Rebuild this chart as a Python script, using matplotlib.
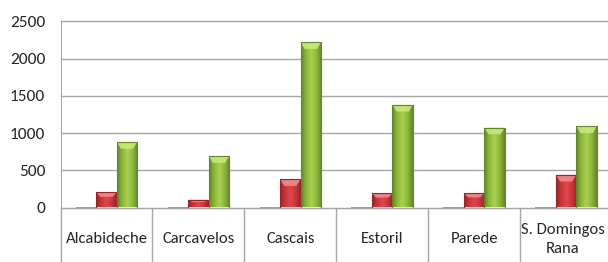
import matplotlib
matplotlib.use('Agg')
import matplotlib.pyplot as plt
import matplotlib.transforms as mtransforms
import numpy as np
from matplotlib.colors import LinearSegmentedColormap

# data
categories = ['Alcabideche', 'Carcavelos', 'Cascais', 'Estoril', 'Parede', 'S. Domingos\nRana']
serie_azul = [10, 10, 10, 10, 10, 10]
serie_vermelha = [205, 105, 380, 190, 195, 440]
serie_verde = [880, 690, 2220, 1380, 1075, 1090]
yticks = [0, 500, 1000, 1500, 2000, 2500]

plt.rcParams['font.family'] = ['Carlito', 'DejaVu Sans']

fig = plt.figure(figsize=(6.08, 2.62), dpi=100)
ax = fig.add_axes([60.5/608, 54.5/262, 551.5/608, 186/262])

x = np.arange(len(categories))
w = 0.223

def shaded(bars, dark, mid, light, top):
    cmap = LinearSegmentedColormap.from_list('b', [dark, mid, light, mid, dark])
    grad = np.linspace(0, 1, 64).reshape(1, -1)
    for b in bars:
        x0, y0 = b.get_x(), b.get_y()
        bw, bh = b.get_width(), b.get_height()
        im = ax.imshow(grad, cmap=cmap, aspect='auto', extent=[x0, x0 + bw, y0, y0 + bh],
                       zorder=3, interpolation='bicubic')
        im.set_clip_path(b)
        # light bevel on top
        cap = min(bh * 0.3, 90)
        ax.fill([x0, x0 + bw, x0 + bw*0.8, x0 + bw*0.2], [y0 + bh, y0 + bh, y0 + bh - cap, y0 + bh - cap],
                color=top, alpha=0.85, zorder=4, lw=0)
        b.set_zorder(5)
        b.set_facecolor('none')
        b.set_edgecolor(dark)
        b.set_linewidth(0.8)

b1 = ax.bar(x - w, serie_azul, w, color='#7FA3D3', zorder=3)
b2 = ax.bar(x, serie_vermelha, w)
b3 = ax.bar(x + w, serie_verde, w)
shaded(b2, '#952528', '#C9363B', '#E2484D', '#F08F92')
shaded(b3, '#66852A', '#8DB83C', '#A8D24F', '#CBEB7E')

ax.set_xlim(-0.5, len(categories) - 0.5)
ax.set_ylim(0, 2500)
ax.set_yticks(yticks)
ax.grid(axis='y', color='#A6A6A6', lw=1, zorder=0)
for gl in ax.get_ygridlines():
    gl.set_clip_on(False)
ax.set_axisbelow(True)

for s in ['top', 'right']:
    ax.spines[s].set_visible(False)
ax.spines['left'].set_color('#A6A6A6')
ax.spines['bottom'].set_color('#A6A6A6')

ax.set_xticks(x)
ax.set_xticklabels(categories, fontsize=12, linespacing=1.45, va='center', color='#262626')
ax.set_xticks(np.arange(-0.5, len(categories), 1), minor=True)
ax.tick_params(axis='x', which='major', length=0, pad=23)
ax.tick_params(axis='x', which='minor', length=40, width=1, color='#A6A6A6')
ax.tick_params(axis='y', length=0, pad=11, labelsize=12.5, labelcolor='#262626')

# last label sits right against the edge, nudge it in a little
last = ax.get_xticklabels()[-1]
last.set_transform(last.get_transform() + mtransforms.ScaledTranslation(-3/100, 0, fig.dpi_scale_trans))

fig.savefig('out.png', dpi=100)
